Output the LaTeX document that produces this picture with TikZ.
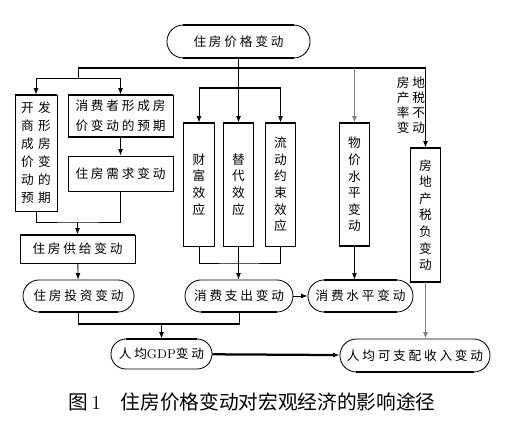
\documentclass[tikz,border=0pt]{standalone}
\usepackage{fontspec}
\newfontfamily\cjk[LetterSpace=22]{Noto Sans CJK SC}
\newfontfamily\cjkcap{Noto Sans CJK SC}
\usetikzlibrary{arrows.meta}

\begin{document}
\begin{tikzpicture}[
		x=0.025cm, y=-0.025cm,
		font=\cjk\fontsize{9}{11.8}\selectfont,
		box/.style={draw, line width=0.6pt, align=center, inner sep=1pt},
		pill/.style={box, rounded corners=#1},
		vbox/.style={box, minimum width=0.76cm, minimum height=3.075cm},
		thtop/.style={append after command={([xshift=#1]\tikzlastnode.north west) edge[line width=1.5pt] ([xshift=-#1]\tikzlastnode.north east)}},
		thtop/.default=0pt,
		thbot/.style={append after command={([xshift=#1]\tikzlastnode.south west) edge[line width=1.5pt] ([xshift=-#1]\tikzlastnode.south east)}},
		thbot/.default=0pt,
		arrow/.style={-{Latex[length=1.6mm,width=1.2mm]}, line width=0.6pt},
		bus/.style={line width=1.6pt}
	]
		\useasboundingbox (0,0) rectangle (508,433);
		% top
		\node[pill=0.41cm, thtop=0.41cm, thbot=0.41cm, minimum width=3.575cm, minimum height=0.825cm] (price) at (238.5,41.5) {住房价格变动};
		% left branch
		\node[box, thtop, minimum width=1.05cm, minimum height=2.9cm, font=\cjk\fontsize{9}{12.8}\selectfont] (dev) at (36,153) {开\hspace{3pt}发\\商\hspace{3pt}形\\成\hspace{3pt}房\\价\hspace{3pt}变\\动\hspace{3pt}的\\预\hspace{3pt}期};
		\node[box, thtop, thbot, minimum width=2.625cm, minimum height=1.05cm, font=\cjk\fontsize{9}{14}\selectfont] (expect) at (120.5,116) {消费者形成房\\价变动的预期};
		\node[box, minimum width=2.625cm, minimum height=0.875cm] (demand) at (120.5,173.5) {住房需求变动};
		\node[box, thtop, minimum width=2.875cm, minimum height=0.7cm] (supply) at (77.5,249) {住房供给变动};
		\node[pill=0.4cm, thbot=0.4cm, minimum width=2.775cm, minimum height=0.8cm] (invest) at (78.5,296) {住房投资变动};
		% effects
		\node[vbox, thtop] (wealth) at (199,184.5) {财\\富\\效\\应};
		\node[vbox, thtop] (subst) at (238.5,184.5) {替\\代\\效\\应};
		\node[vbox, thtop] (liquid) at (280.5,184.5) {流\\动\\约\\束\\效\\应};
		\node[vbox, thtop, thbot] (cpi) at (354.5,184.5) {物\\价\\水\\平\\变\\动};
		\node[vbox, thtop, thbot, minimum height=3.35cm] (tax) at (425.5,215) {房\\地\\产\\税\\负\\变\\动};
		\node[align=center, inner sep=0pt, font=\cjk\fontsize{9}{10.8}\selectfont] (taxlbl) at (411,105) {房地\\产税\\率不\\变动};
		% bottom
		\node[pill=0.4cm, thbot=0.4cm, minimum width=2.7cm, minimum height=0.8cm] (spend) at (239,296) {消费支出变动};
		\node[pill=0.4cm, thtop=0.4cm, thbot=0.4cm, minimum width=2.625cm, minimum height=0.8cm] (level) at (360.5,296) {消费水平变动};
		\node[pill=0.375cm, thtop=0.375cm, minimum width=2.525cm, minimum height=0.75cm] (gdp) at (161.5,354) {人均\hspace{-2pt}\textrm{GDP}变动};
		\node[pill=0.41cm, thbot=0.41cm, minimum width=3.75cm, minimum height=0.825cm] (income) at (415,355.5) {人均可支配收入变动};
		\node (cap) at (252,402) {\cjkcap\fontsize{14}{16}\selectfont 图\,\textrm{1}\quad 住房价格变动对宏观经济的影响途径};
		% bus points
		\coordinate (bus1l) at (78,68);
		\coordinate (bus1r) at (425.5,68);
		\coordinate (bus2) at (238.5,88);
		\coordinate (fork1) at (78,78);
		\coordinate (join1) at (77.5,222);
		\coordinate (join2) at (238.5,263);
		\coordinate (join3) at (161.5,324);
		% connectors
		\draw[bus] (bus1l) -- (bus1r);
		\draw[arrow] (price) -- (subst);
		\draw[arrow] (bus1r) -- (tax);
		\draw[arrow, gray] (bus1l -| cpi) -- (cpi);
		\draw (bus1l) -- (fork1);
		\draw[arrow] (fork1) -| (dev);
		\draw[arrow] (fork1) -| (expect);
		\draw[bus] (bus2 -| wealth) -- (bus2 -| liquid);
		\draw[arrow] (bus2 -| wealth) -- (wealth);
		\draw[arrow] (bus2 -| liquid) -- (liquid);
		\draw[arrow] (expect) -- (demand);
		\draw[line width=0.6pt] (dev) |- (join1) -| (demand);
		\draw[arrow] (join1) -- (supply);
		\draw[arrow] (supply) -- (invest);
		\draw[line width=0.6pt] (wealth) |- (join2) -| (liquid);
		\draw[arrow] (subst) -- (subst |- spend.north);
		\draw[arrow] (spend) -- (level);
		\draw[arrow] (cpi) -- (cpi |- level.north);
		\draw[line width=0.6pt] (invest) |- (join3) -| (spend);
		\draw[bus] (invest |- join3) -- (spend |- join3);
		\draw[arrow] (join3) -- (gdp);
		\draw[arrow, bus] (gdp) -- (income);
		\draw[arrow, gray] (tax) -- (tax |- income.north);
	\end{tikzpicture}
\end{document}
